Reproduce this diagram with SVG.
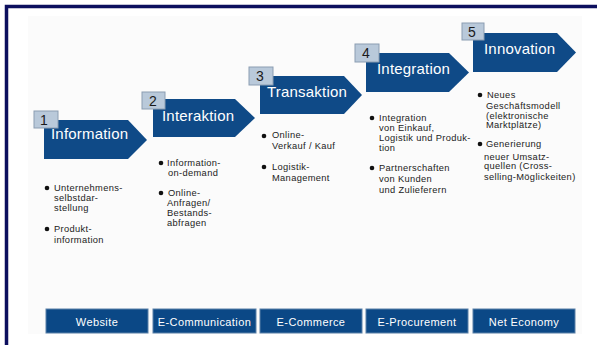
<svg xmlns="http://www.w3.org/2000/svg" width="597" height="345" viewBox="0 0 597 345">
<style>
.arrow{fill:#0f4a87}
.num{fill:#b9c9da;stroke:#8b9db2;stroke-width:1}
.numt{font-family:"Liberation Sans",Arial,sans-serif;font-size:14px;fill:#1a1a1a}
.title{font-family:"Liberation Sans",Arial,sans-serif;font-size:15px;fill:#ffffff;letter-spacing:0.2px}
.bar{fill:#0b4886;stroke:#5a80a8;stroke-width:1}
.bart{font-family:"Liberation Sans",Arial,sans-serif;font-size:11px;fill:#ffffff;letter-spacing:0.4px;text-anchor:middle}
.txt{font-family:"Liberation Sans",Arial,sans-serif;font-size:9.3px;fill:#222222;letter-spacing:0.35px}
.dot{fill:#111111}
</style>
<rect x="0" y="0" width="597" height="345" fill="#ffffff"/>
<rect x="28" y="16" width="554" height="318" fill="#fbfbfb"/>
<path d="M6.5 345 V6.5 H597" fill="none" stroke="#0c0f5e" stroke-width="3.5"/>

<g id="stage1">
<polygon class="arrow" points="44,120 128,120 147,140 128,159 44,159"/>
<rect class="num" x="34" y="111" width="24" height="17"/>
<text class="numt" x="40" y="125">1</text>
<text class="title" x="51" y="139">Information</text>
</g>
<g id="stage2">
<polygon class="arrow" points="153,99 235,99 255,118 235,137 153,137"/>
<rect class="num" x="142" y="92" width="23" height="17"/>
<text class="numt" x="149" y="106">2</text>
<text class="title" x="162" y="120.5">Interaktion</text>
</g>
<g id="stage3">
<polygon class="arrow" points="260,76 344,76 362,95 344,114 260,114"/>
<rect class="num" x="249" y="67" width="24" height="18"/>
<text class="numt" x="256" y="81">3</text>
<text class="title" x="267" y="97">Transaktion</text>
</g>
<g id="stage4">
<polygon class="arrow" points="366,53 449,53 469,72.5 449,92 366,92"/>
<rect class="num" x="355" y="44" width="24" height="18"/>
<text class="numt" x="362" y="58">4</text>
<text class="title" x="377" y="74">Integration</text>
</g>
<g id="stage5">
<polygon class="arrow" points="473,33 557,33 576,52.5 557,72 473,72"/>
<rect class="num" x="462" y="23" width="22" height="17"/>
<text class="numt" x="468" y="37">5</text>
<text class="title" x="484" y="54">Innovation</text>
</g>

<g id="bullets1">
<circle class="dot" cx="47" cy="188" r="2.3"/>
<text class="txt" x="54" y="191">Unternehmens-</text>
<text class="txt" x="54" y="201">selbstdar-</text>
<text class="txt" x="54" y="211">stellung</text>
<circle class="dot" cx="47" cy="229" r="2.3"/>
<text class="txt" x="54" y="232">Produkt-</text>
<text class="txt" x="54" y="243">information</text>
</g>
<g id="bullets2">
<circle class="dot" cx="161" cy="163" r="2.3"/>
<text class="txt" x="167" y="166">Information-</text>
<text class="txt" x="168" y="176">on-demand</text>
<circle class="dot" cx="161" cy="193" r="2.3"/>
<text class="txt" x="168" y="196">Online-</text>
<text class="txt" x="167" y="206">Anfragen/</text>
<text class="txt" x="167" y="216">Bestands-</text>
<text class="txt" x="167" y="226">abfragen</text>
</g>
<g id="bullets3">
<circle class="dot" cx="264" cy="136" r="2.3"/>
<text class="txt" x="272" y="138">Online-</text>
<text class="txt" x="272" y="149">Verkauf / Kauf</text>
<circle class="dot" cx="264" cy="167" r="2.3"/>
<text class="txt" x="272" y="170">Logistik-</text>
<text class="txt" x="272" y="181">Management</text>
</g>
<g id="bullets4">
<circle class="dot" cx="372" cy="118" r="2.3"/>
<text class="txt" x="379" y="121">Integration</text>
<text class="txt" x="379" y="131">von Einkauf,</text>
<text class="txt" x="379" y="141">Logistik und Produk-</text>
<text class="txt" x="379" y="151">tion</text>
<circle class="dot" cx="372" cy="168" r="2.3"/>
<text class="txt" x="379" y="171">Partnerschaften</text>
<text class="txt" x="379" y="182">von Kunden</text>
<text class="txt" x="379" y="193">und Zulieferern</text>
</g>
<g id="bullets5">
<circle class="dot" cx="480" cy="95" r="2.3"/>
<text class="txt" x="487" y="98">Neues</text>
<text class="txt" x="486" y="109">Geschäftsmodell</text>
<text class="txt" x="486" y="119">(elektronische</text>
<text class="txt" x="486" y="128">Marktplätze)</text>
<circle class="dot" cx="480" cy="144" r="2.3"/>
<text class="txt" x="486" y="147">Generierung</text>
<text class="txt" x="484" y="160">neuer Umsatz-</text>
<text class="txt" x="484" y="169">quellen (Cross-</text>
<text class="txt" x="484" y="180">selling-Möglickeiten)</text>
</g>

<g id="bar1"><rect class="bar" x="46" y="309" width="102" height="24"/><text class="bart" x="97" y="326">Website</text></g>
<g id="bar2"><rect class="bar" x="153" y="309" width="103" height="24"/><text class="bart" x="204.5" y="326">E-Communication</text></g>
<g id="bar3"><rect class="bar" x="260" y="309" width="102" height="24"/><text class="bart" x="311" y="326">E-Commerce</text></g>
<g id="bar4"><rect class="bar" x="366" y="309" width="102" height="24"/><text class="bart" x="417" y="326">E-Procurement</text></g>
<g id="bar5"><rect class="bar" x="473" y="309" width="102" height="24"/><text class="bart" x="524" y="326">Net Economy</text></g>
<g id="connectors"></g>
</svg>
